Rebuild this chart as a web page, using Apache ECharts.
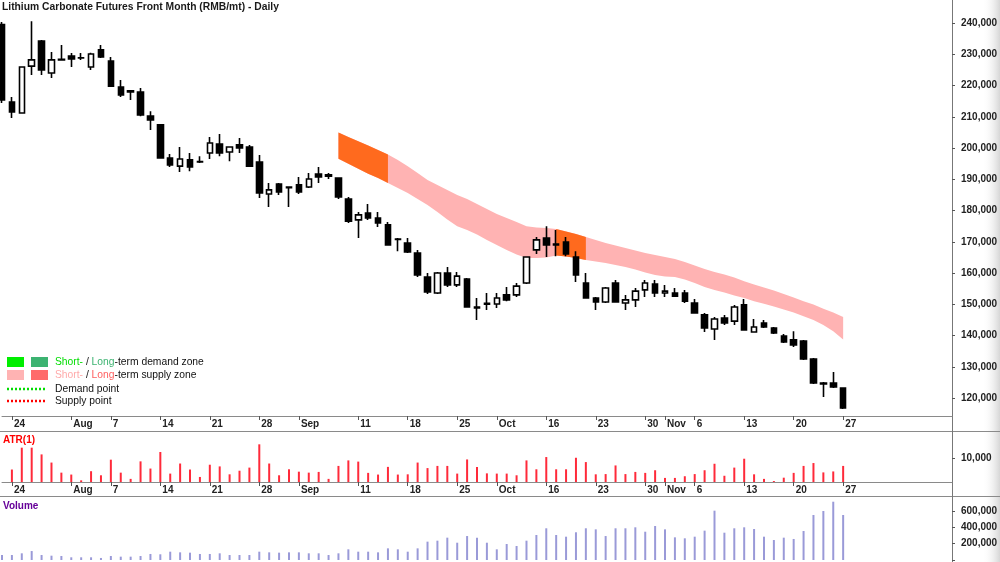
<!DOCTYPE html>
<html>
<head>
<meta charset="utf-8">
<script src="https://cdn.jsdelivr.net/npm/echarts@6/dist/echarts.min.js"></script>
<style>
html,body{margin:0;padding:0;background:#fff;}
#chart{width:1000px;height:562px;}
</style>
</head>
<body>
<div id="chart"></div>
<script>
/* Lithium carbonate front month, daily */
var dates = [
  '2023-07-21','2023-07-24','2023-07-25','2023-07-26','2023-07-27','2023-07-28','2023-07-31',
  '2023-08-01','2023-08-02','2023-08-03','2023-08-04','2023-08-07','2023-08-08','2023-08-09','2023-08-10','2023-08-11',
  '2023-08-14','2023-08-15','2023-08-16','2023-08-17','2023-08-18','2023-08-21','2023-08-22','2023-08-23','2023-08-24','2023-08-25',
  '2023-08-28','2023-08-29','2023-08-30','2023-08-31',
  '2023-09-01','2023-09-04','2023-09-05','2023-09-06','2023-09-07','2023-09-08','2023-09-11','2023-09-12','2023-09-13','2023-09-14','2023-09-15',
  '2023-09-18','2023-09-19','2023-09-20','2023-09-21','2023-09-22','2023-09-25','2023-09-26','2023-09-27','2023-09-28',
  '2023-10-09','2023-10-10','2023-10-11','2023-10-12','2023-10-13','2023-10-16','2023-10-17','2023-10-18','2023-10-19','2023-10-20',
  '2023-10-23','2023-10-24','2023-10-25','2023-10-26','2023-10-27','2023-10-30','2023-10-31',
  '2023-11-01','2023-11-02','2023-11-03','2023-11-06','2023-11-07','2023-11-08','2023-11-09','2023-11-10',
  '2023-11-13','2023-11-14','2023-11-15','2023-11-16','2023-11-17','2023-11-20','2023-11-21','2023-11-22','2023-11-23','2023-11-24','2023-11-27'
];
var opens = [239500,214700,211200,226200,234200,224000,228400,229400,228900,225900,231400,227800,219500,217900,217900,210200,
  207400,196800,194200,196200,195700,198400,201300,198700,201000,200300,195500,185300,188500,187500,
  188200,187500,191700,191400,190400,183700,177000,179200,177600,175400,170900,169600,166400,158700,153600,160000,156200,158100,149100,150000,
  150100,153000,153000,156800,167400,171200,169300,169900,165100,156800,152000,150700,156800,150400,151400,154600,156500,
  153600,153600,153600,150400,146600,142100,145600,144600,149800,141100,144000,142400,139800,138600,138200,132500,124500,124800,123200];
var closes = [215400,211500,225900,228200,225000,228200,228200,228500,228800,230100,229100,219800,217000,218300,210600,209000,
  196800,194600,196500,193900,195500,201600,198400,200300,200000,194200,185600,186600,185900,187300,
  185900,190100,190700,191000,184300,176600,178600,177600,176000,169000,170700,166700,159400,153900,160000,156200,159000,149100,148800,150300,
  152000,151400,155800,165100,170600,169000,169000,166100,159400,152000,150700,155200,150700,151400,154200,156800,153600,
  154200,152600,151000,147200,142400,145300,144000,149100,141800,142700,142700,140800,137900,137000,132500,124800,124800,123500,116800];
var lows = [214400,209600,211000,223400,223400,222400,228100,225900,228200,225000,228800,219500,216300,215400,210200,205800,
  196700,193900,192300,192600,195200,196500,197400,195800,198400,194000,184000,181100,185000,181100,
  185300,187200,188800,190100,183700,176000,171200,177000,174700,168900,167000,166400,158700,153300,153300,155500,155500,149000,145000,148200,
  148800,151000,152300,156500,166100,165100,165400,165400,157100,151800,148200,150400,150600,148200,149100,152300,152300,
  152300,152300,150400,147100,141100,138600,143400,143400,141700,141100,142400,140500,137600,136300,132200,124500,120300,123200,116500];
var highs = [240300,216300,226000,240600,234600,230700,233000,230400,230400,230500,233000,229100,221800,218600,219200,211800,
  207700,198100,200300,198400,197400,203500,204500,200400,203200,201000,197800,188800,188800,187700,
  190700,192000,193900,192000,190600,184300,179500,182100,179500,176300,171200,171200,167400,160000,160300,161900,160300,158400,152000,153600,
  153600,155500,156800,165400,171500,175000,173800,171500,167000,160000,152300,155500,157800,153000,155200,157800,157800,
  156200,155200,154600,151700,147200,145900,146600,149800,151700,145300,145000,142700,140500,141400,138600,132800,125100,128300,123300];

var atr = [null,5200,14300,14300,11500,8100,3900,3100,700,4500,2800,9300,3900,1300,8600,5600,
  12500,3500,7700,5200,2100,7200,6500,3200,4700,6000,15700,7700,2800,5300,
  4300,3900,4200,1300,6700,9000,8500,3800,3100,6300,3100,3200,8100,5800,6700,6700,3500,9400,6300,3600,
  3500,3500,2800,9000,5300,10400,5300,5300,10100,8300,3200,3300,6900,3300,4200,3800,4900,
  1700,1700,2400,3300,4900,7600,2600,6000,9700,3200,1300,400,1800,3800,6700,7900,4000,4400,6700];

var volume = [61000,61000,82000,110000,61000,53000,49000,33000,33000,33000,25000,49000,41000,41000,49000,74000,
  70000,102000,94000,90000,74000,74000,82000,61000,61000,61000,102000,94000,90000,94000,
  94000,82000,82000,61000,82000,131000,102000,102000,94000,143000,131000,102000,143000,225000,237000,274000,212000,294000,274000,212000,
  131000,196000,172000,237000,307000,389000,307000,286000,340000,389000,376000,294000,389000,389000,401000,347000,417000,
  376000,278000,266000,286000,360000,605000,335000,389000,401000,380000,286000,245000,274000,258000,356000,552000,601000,715000,552000];

/* supply zone band, from zoneStart on */
var zoneStart = '2023-09-07';
var zoneTop = [205000,203500,202200,200800,199400,197900,196200,194200,192000,189800,188200,186600,185000,183700,182100,180500,
  178900,177600,176300,175000,174600,174400,174100,173300,172500,171500,170600,169600,168800,168000,167200,166400,165800,165100,
  164500,163500,162400,161300,160300,159500,158600,157400,156300,155400,154400,153300,152200,151000,149900,148600,147400,145900];
var zoneBottom = [196600,195000,193400,191800,190400,188800,187200,185600,183700,181800,179500,177100,175000,173800,172300,170600,
  169000,167400,165900,164800,164800,165000,165600,165300,164800,164200,163700,163200,162600,161900,161100,160200,159400,158900,
  158700,157900,156800,155500,154600,153800,152800,152000,151000,150200,149300,148300,147400,146200,145000,143400,141400,138700];
var shortZones = [['2023-09-07','2023-09-14'],['2023-10-17','2023-10-20']];

var tickDates = ['2023-07-24','2023-08-01','2023-08-07','2023-08-14','2023-08-21','2023-08-28','2023-09-01','2023-09-11','2023-09-18',
  '2023-09-25','2023-10-09','2023-10-16','2023-10-23','2023-10-30','2023-11-01','2023-11-06','2023-11-13','2023-11-20','2023-11-27'];
var tickText = ['24','Aug','7','14','21','28','Sep','11','18','25','Oct','16','23','30','Nov','6','13','20','27'];

var priceTicks = [120000,130000,140000,150000,160000,170000,180000,190000,200000,210000,220000,230000,240000];
var atrTicks = [10000];
var volTicks = [200000,400000,600000];

var FONT = '"Liberation Sans", Arial, sans-serif';
var chart = echarts.init(document.getElementById('chart'), null, {renderer: 'canvas'});

// empty slots to the right of the last bar
var cats = dates.slice();
for (var p = 1; p <= 11; p++) cats.push('pad' + p);

var labelMap = {};
tickDates.forEach(function (d, i) { labelMap[d] = tickText[i]; });

var candles = dates.map(function (d, i) {
    return [opens[i], closes[i], lows[i], highs[i]];
});

var z0 = dates.indexOf(zoneStart);
function zoneSeries(arrFn, onlyShort) {
    return dates.map(function (d, i) {
        var k = i - z0;
        if (k < 0 || k >= zoneTop.length) return null;
        if (onlyShort) {
            var inside = shortZones.some(function (z) { return d >= z[0] && d <= z[1]; });
            if (!inside) return null;
        }
        return arrFn(k);
    });
}
var bandLow = zoneSeries(function (k) { return zoneBottom[k]; }, false);
var bandDiff = zoneSeries(function (k) { return zoneTop[k] - zoneBottom[k]; }, false);
var shortLow = zoneSeries(function (k) { return zoneBottom[k]; }, true);
var shortDiff = zoneSeries(function (k) { return zoneTop[k] - zoneBottom[k]; }, true);

function fmt(v) { return v.toLocaleString('en-US'); }

function xAxisFor(gi, show) {
    return {
        type: 'category', gridIndex: gi, data: cats, boundaryGap: false,
        show: show,
        axisLine: {show: true, lineStyle: {color: '#8a8a8a', width: 1}},
        axisTick: {show: true, length: 4, inside: false, lineStyle: {color: '#555'},
            interval: function (i, v) { return labelMap[v] !== undefined; }},
        axisLabel: {show: true, interval: function (i, v) { return labelMap[v] !== undefined; },
            formatter: function (v) { return labelMap[v] || ''; },
            align: 'left', padding: [0, 0, 0, 2], margin: 3, hideOverlap: false,
            fontSize: 10, fontWeight: 'bold', color: '#222', fontFamily: FONT},
        splitLine: {show: false}
    };
}
function yAxisFor(gi, min, max, ticks, labels) {
    return {
        type: 'value', gridIndex: gi, position: 'right', min: min, max: max, scale: true,
        axisLine: {show: true, lineStyle: {color: '#777', width: 1}},
        axisTick: {show: true, length: 3, lineStyle: {color: '#555'}, customValues: ticks},
        axisLabel: {show: true, margin: 9, fontSize: 10, fontWeight: 'bold', color: '#222', fontFamily: FONT,
            customValues: labels, formatter: fmt},
        splitLine: {show: false}
    };
}

var grids = [
    {left: 2, right: 48, top: 0, height: 416, outerBoundsMode: 'none'},
    {left: 2, right: 48, top: 431, height: 51, outerBoundsMode: 'none'},
    {left: 2, right: 48, top: 496, height: 64, outerBoundsMode: 'none'}
];

chart.setOption({
    animation: false,
    backgroundColor: '#fff',
    grid: grids,
    xAxis: [xAxisFor(0, true), xAxisFor(1, true), xAxisFor(2, false)],
    yAxis: [
        yAxisFor(0, 114240, 247360, priceTicks, priceTicks),
        yAxisFor(1, 0, 21250, atrTicks, atrTicks),
        yAxisFor(2, 0, 785000, [0].concat(volTicks), volTicks)
    ],
    series: [
        {type: 'line', xAxisIndex: 0, yAxisIndex: 0, data: bandLow, stack: 'band', symbol: 'none',
            lineStyle: {width: 0, opacity: 0}, silent: true, z: 1},
        {type: 'line', xAxisIndex: 0, yAxisIndex: 0, data: bandDiff, stack: 'band', symbol: 'none',
            lineStyle: {width: 0, opacity: 0}, areaStyle: {color: '#ffb3b3', opacity: 1}, silent: true, z: 1},
        {type: 'line', xAxisIndex: 0, yAxisIndex: 0, data: shortLow, stack: 'short', symbol: 'none',
            lineStyle: {width: 0, opacity: 0}, silent: true, z: 1},
        {type: 'line', xAxisIndex: 0, yAxisIndex: 0, data: shortDiff, stack: 'short', symbol: 'none',
            lineStyle: {width: 0, opacity: 0}, areaStyle: {color: '#ff6a1e', opacity: 1}, silent: true, z: 1},
        {type: 'candlestick', xAxisIndex: 0, yAxisIndex: 0, data: candles, barWidth: 6, clip: false, z: 3,
            itemStyle: {color: '#ffffff', color0: '#000000', borderColor: '#000000', borderColor0: '#000000', borderWidth: 1.6}},
        {type: 'bar', xAxisIndex: 1, yAxisIndex: 1, data: atr, barWidth: 2, clip: false,
            itemStyle: {color: '#ff2a3a'}},
        {type: 'bar', xAxisIndex: 2, yAxisIndex: 2, data: volume, barWidth: 2, clip: false,
            itemStyle: {color: '#9a9ad8'}}
    ],
    graphic: [
        {type: 'rect', silent: true, z: -10, shape: {x: 982, y: 0, width: 18, height: 562},
            style: {fill: new echarts.graphic.LinearGradient(0, 0, 1, 0, [
                {offset: 0, color: 'rgba(255,255,255,0)'}, {offset: 1, color: '#d6d6d6'}])}},
        {type: 'line', silent: true, shape: {x1: 0, y1: 431.5, x2: 1000, y2: 431.5}, style: {stroke: '#8a8a8a', lineWidth: 1}},
        {type: 'line', silent: true, shape: {x1: 0, y1: 496.5, x2: 1000, y2: 496.5}, style: {stroke: '#8a8a8a', lineWidth: 1}},
        {type: 'line', silent: true, shape: {x1: 952.5, y1: 0, x2: 952.5, y2: 562}, style: {stroke: '#777', lineWidth: 1}},
        {type: 'text', silent: true, style: {x: 2, y: 7, text: 'Lithium Carbonate Futures Front Month (RMB/mt) - Daily',
            font: 'bold 10.3px ' + FONT, fill: '#1a1a1a', verticalAlign: 'middle'}},
        {type: 'text', silent: true, style: {x: 3, y: 440, text: 'ATR(1)', font: 'bold 10px ' + FONT, fill: '#ff0000', verticalAlign: 'middle'}},
        {type: 'text', silent: true, style: {x: 3, y: 506, text: 'Volume', font: 'bold 10px ' + FONT, fill: '#660099', verticalAlign: 'middle'}},
        // legend
        {type: 'rect', silent: true, shape: {x: 7, y: 357, width: 17, height: 10}, style: {fill: '#00ee00'}},
        {type: 'rect', silent: true, shape: {x: 31, y: 357, width: 17, height: 10}, style: {fill: '#3cb371'}},
        {type: 'rect', silent: true, shape: {x: 7, y: 370, width: 17, height: 10}, style: {fill: '#ffb3b3'}},
        {type: 'rect', silent: true, shape: {x: 31, y: 370, width: 17, height: 10}, style: {fill: '#ff6b6b'}},
        {type: 'line', silent: true, shape: {x1: 7, y1: 389, x2: 47, y2: 389}, style: {stroke: '#00dd00', lineWidth: 2.5, lineDash: [2, 2]}},
        {type: 'line', silent: true, shape: {x1: 7, y1: 401, x2: 47, y2: 401}, style: {stroke: '#ff0000', lineWidth: 2.5, lineDash: [2, 2]}},
        {type: 'text', silent: true, style: {x: 55, y: 362.5, text: '{g|Short-} / {dg|Long}-term demand zone',
            font: '10.3px ' + FONT, fill: '#111', verticalAlign: 'middle',
            rich: {g: {fill: '#00dd00', font: '10.3px ' + FONT}, dg: {fill: '#3cb371', font: '10.3px ' + FONT}}}},
        {type: 'text', silent: true, style: {x: 55, y: 375, text: '{p|Short-} / {r|Long}-term supply zone',
            font: '10.3px ' + FONT, fill: '#111', verticalAlign: 'middle',
            rich: {p: {fill: '#ffaaaa', font: '10.3px ' + FONT}, r: {fill: '#ff6060', font: '10.3px ' + FONT}}}},
        {type: 'text', silent: true, style: {x: 55, y: 389, text: 'Demand point', font: '10.3px ' + FONT, fill: '#111', verticalAlign: 'middle'}},
        {type: 'text', silent: true, style: {x: 55, y: 401, text: 'Supply point', font: '10.3px ' + FONT, fill: '#111', verticalAlign: 'middle'}}
    ]
});
</script>
</body>
</html>
